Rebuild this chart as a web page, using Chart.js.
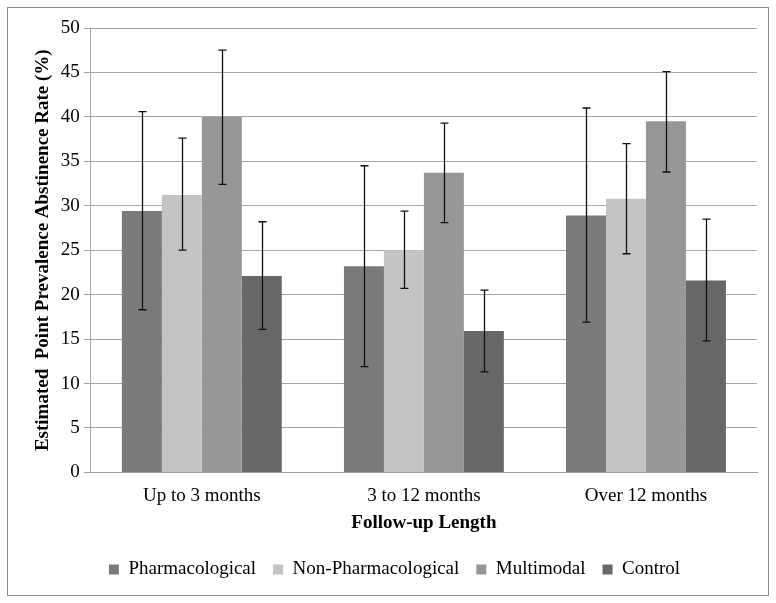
<!DOCTYPE html>
<html>
<head>
<meta charset="utf-8"/>
<title>Abstinence rate</title>
<script src="https://cdn.jsdelivr.net/npm/chart.js@4.4.0/dist/chart.umd.min.js"></script>
<style>
  body { margin: 0; background: #fff; }
</style>
</head>
<body>
<canvas id="chart" width="776" height="603"></canvas>
<script>
var labels = ['Up to 3 months', '3 to 12 months', 'Over 12 months'];
var seriesNames = ['Pharmacological', 'Non-Pharmacological', 'Multimodal', 'Control'];
var pharm    = [29.4, 23.2, 28.9];
var nonPharm = [31.2, 25.0, 30.8];
var multi    = [40.0, 33.7, 39.5];
var control  = [22.1, 15.9, 21.6];
// error bar lows / highs
var pharmLo    = [18.3, 11.9, 16.9];
var pharmHi    = [40.6, 34.5, 41.0];
var nonPharmLo = [25.0, 20.7, 24.6];
var nonPharmHi = [37.6, 29.4, 37.0];
var multiLo    = [32.4, 28.1, 33.8];
var multiHi    = [47.5, 39.3, 45.1];
var controlLo  = [16.1, 11.3, 14.8];
var controlHi  = [28.2, 20.5, 28.5];
var yTicks = [0, 5, 10, 15, 20, 25, 30, 35, 40, 45, 50];

var colors = ['#7a7a7a', '#c4c4c4', '#979797', '#676767'];
var values = [pharm, nonPharm, multi, control];
var lows = [pharmLo, nonPharmLo, multiLo, controlLo];
var highs = [pharmHi, nonPharmHi, multiHi, controlHi];

var datasets = [];
for (var i = 0; i < seriesNames.length; i++) {
  datasets.push({
    label: seriesNames[i],
    data: values[i],
    backgroundColor: colors[i],
    borderWidth: 0,
    errLo: lows[i],
    errHi: highs[i]
  });
}

var errorBars = {
  id: 'errorBars',
  afterDatasetsDraw: function(chart) {
    var ctx = chart.ctx;
    var y = chart.scales.y;
    ctx.save();
    ctx.strokeStyle = '#111';
    ctx.lineWidth = 1.3;
    chart.data.datasets.forEach(function(ds, di) {
      var meta = chart.getDatasetMeta(di);
      meta.data.forEach(function(bar, j) {
        var x = Math.round(bar.x) + 0.5;
        var top = y.getPixelForValue(ds.errHi[j]);
        var bot = y.getPixelForValue(ds.errLo[j]);
        ctx.beginPath();
        ctx.moveTo(x, top); ctx.lineTo(x, bot);
        ctx.moveTo(x - 4, top); ctx.lineTo(x + 4, top);
        ctx.moveTo(x - 4, bot); ctx.lineTo(x + 4, bot);
        ctx.stroke();
      });
    });
    ctx.restore();
  }
};

var frame = {
  id: 'frame',
  beforeDraw: function(chart) {
    var ctx = chart.ctx;
    ctx.save();
    ctx.fillStyle = '#fff';
    ctx.fillRect(0, 0, chart.width, chart.height);
    ctx.strokeStyle = '#8c8c8c';
    ctx.lineWidth = 1;
    ctx.strokeRect(7.5, 7.5, 761, 588);
    ctx.restore();
  }
};

var serif = 'Liberation Serif';
new Chart(document.getElementById('chart'), {
  type: 'bar',
  data: { labels: labels, datasets: datasets },
  plugins: [frame, errorBars],
  options: {
    responsive: false,
    animation: false,
    layout: { padding: { top: 28, left: 32, right: 19, bottom: 14 } },
    datasets: { bar: { barPercentage: 1.0, categoryPercentage: 0.72 } },
    plugins: {
      tooltip: { enabled: false },
      legend: {
        position: 'bottom',
        labels: {
          boxWidth: 10, boxHeight: 10,
          color: '#000',
          padding: 17,
          font: { family: serif, size: 19 }
        }
      }
    },
    scales: {
      x: {
        grid: { display: false },
        border: { color: '#a0a0a0' },
        ticks: { color: '#000', padding: 4, font: { family: serif, size: 19 } },
        title: { display: true, text: 'Follow-up Length', color: '#000', padding: { top: 0, bottom: 9 },
                 font: { family: serif, size: 19, weight: 'bold' } }
      },
      y: {
        min: 0, max: 50,
        afterBuildTicks: function(axis) { axis.ticks = yTicks.map(function(v) { return { value: v }; }); },
        grid: { color: '#a6a6a6', tickLength: 7 },
        border: { color: '#a6a6a6' },
        ticks: { color: '#000', padding: 4, font: { family: serif, size: 19 } },
        title: { display: true, text: 'Estimated  Point Prevalence Abstinence Rate (%)', color: '#000',
                 padding: { top: 0, bottom: 2 },
                 font: { family: serif, size: 19, weight: 'bold' } }
      }
    }
  }
});
</script>
</body>
</html>
